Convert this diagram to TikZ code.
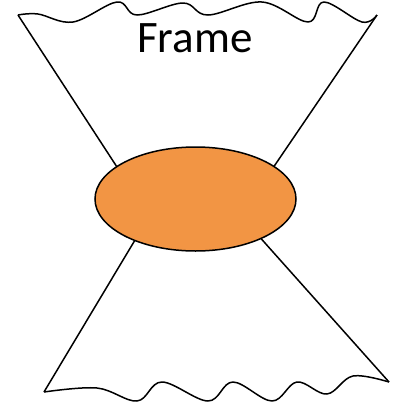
\documentclass[tikz,border=0pt]{standalone}
\usepackage{fontspec}
\setmainfont{Carlito}
\usetikzlibrary{shapes.geometric}
\definecolor{blob}{HTML}{F29544}
\tikzset{
  rand/.style={black,line width=1.5pt,line join=round},
  welle/.style={rand,smooth,tension=0.6},
  kern/.style={ellipse,draw=black,fill=blob,line width=1.5pt,minimum width=201pt,minimum height=104pt,inner sep=0pt},
  titel/.style={font=\fontsize{45}{54}\selectfont,anchor=base,inner sep=0pt},
}
\begin{document}
\begin{tikzpicture}[x=1pt,y=-1pt]
  \useasboundingbox (0,0) rectangle (395,408);
  \coordinate (tl) at (18,15);
  \coordinate (tr) at (377,15);
  \coordinate (bl) at (44,392);
  \coordinate (br) at (389,382);
  % upper wavy edge
  \draw[welle] plot coordinates {(18,15) (38,14) (73,22) (117,2) (137,15) (183,3) (208,15) (262,2) (308,22) (324,2) (362,22) (377,15)};
  % lower wavy edge
  \draw[welle] plot coordinates {(44,392) (97,388) (137,401) (162,382) (208,401) (233,382) (272,401) (297,382) (327,394) (353,376) (389,382)};
  \draw[rand] (tl) -- (130,187);
  \draw[rand] (tr) -- (260,187);
  \draw[rand] (bl) -- (150,215);
  \draw[rand] (br) -- (240,215);
  \node[kern] (core) at (195.5,199) {};
  \node[titel] (label) at (195,52) {Frame};
\end{tikzpicture}
\end{document}
